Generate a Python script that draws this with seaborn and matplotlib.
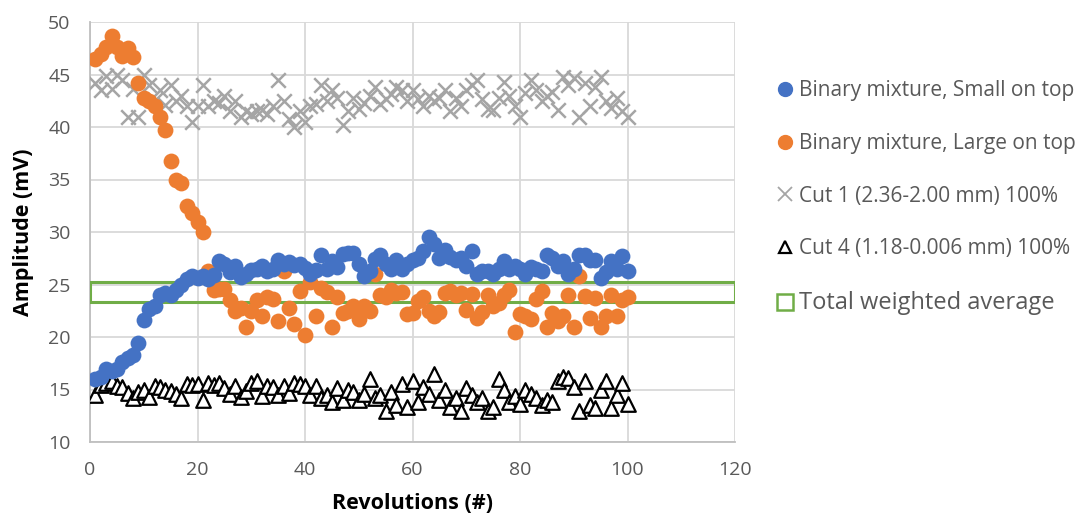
import numpy as np
import pandas as pd
import matplotlib
matplotlib.use("Agg")
import matplotlib.pyplot as plt
import seaborn as sns
from matplotlib.lines import Line2D

revs = list(range(1, 101))

small_on_top = [16.0, 16.2, 17.0, 16.8, 17.0, 17.6, 18.0, 18.3, 19.4, 21.6,
                22.7, 23.0, 24.0, 24.2, 24.0, 24.5, 25.0, 25.5, 25.8, 25.6,
                25.8, 25.5, 25.9, 27.2, 27.0, 26.2, 26.8, 25.7, 26.0, 26.4,
                26.5, 26.8, 26.3, 26.5, 27.3, 27.0, 27.1, 26.9, 27.0, 26.6,
                26.0, 26.4, 27.8, 26.5, 27.2, 26.7, 27.9, 28.0, 28.0, 27.0,
                25.8, 26.3, 27.4, 27.8, 27.0, 26.5, 27.3, 26.5, 27.0, 27.3,
                27.5, 28.2, 29.5, 28.9, 27.5, 28.3, 27.6, 27.3, 27.5, 26.8,
                28.2, 26.0, 26.3, 26.3, 26.0, 26.5, 27.2, 26.5, 26.8, 26.5,
                26.0, 26.7, 26.5, 26.3, 27.8, 27.5, 26.8, 27.2, 26.0, 26.5,
                27.8, 27.8, 27.3, 27.3, 25.6, 26.2, 27.2, 26.5, 27.7, 26.3]

large_on_top = [46.5, 47.0, 47.6, 48.7, 47.6, 46.8, 47.5, 46.7, 44.2, 42.8,
                42.5, 42.0, 41.0, 39.7, 36.8, 35.0, 34.7, 32.5, 31.8, 31.0,
                30.0, 26.3, 24.5, 24.6, 24.6, 23.5, 22.5, 22.8, 21.0, 22.5,
                23.5, 22.0, 23.8, 23.6, 21.5, 26.3, 22.8, 21.2, 24.4, 20.2,
                25.2, 22.0, 24.7, 24.3, 21.0, 23.8, 22.3, 22.5, 23.0, 21.7,
                23.0, 22.5, 26.0, 24.0, 23.8, 24.5, 24.2, 24.3, 22.2, 22.3,
                23.4, 23.8, 22.5, 22.0, 22.4, 24.2, 24.4, 24.0, 24.2, 22.6,
                24.1, 21.8, 22.4, 24.0, 23.0, 23.2, 24.0, 24.5, 20.5, 22.2,
                22.0, 21.7, 23.6, 24.4, 21.0, 22.3, 21.5, 22.0, 24.0, 21.0,
                25.8, 23.9, 21.8, 23.7, 21.0, 22.0, 24.0, 22.0, 23.5, 23.8]

cut1 = [44.2, 43.5, 44.9, 43.6, 45.0, 44.5, 41.0, 43.6, 41.0, 45.0,
        44.0, 42.6, 43.5, 42.1, 44.0, 42.5, 43.0, 42.0, 40.5, 42.0,
        44.0, 42.0, 42.5, 42.3, 43.0, 41.5, 42.5, 41.0, 41.5, 41.2,
        41.5, 41.6, 41.2, 42.0, 44.5, 42.5, 40.8, 40.0, 41.5, 40.5,
        42.0, 42.2, 44.0, 42.5, 43.5, 42.8, 40.2, 41.5, 42.8, 41.7,
        42.3, 43.0, 43.8, 42.2, 42.7, 43.1, 43.8, 43.5, 42.5, 43.5,
        42.7, 42.0, 43.0, 42.5, 42.8, 43.5, 41.5, 42.8, 42.0, 43.5,
        44.0, 44.5, 42.7, 41.7, 41.6, 42.8, 44.3, 43.0, 42.0, 41.0,
        43.2, 44.5, 43.5, 42.5, 43.0, 43.3, 41.6, 44.8, 44.0, 44.7,
        41.0, 44.2, 42.0, 43.8, 44.8, 42.5, 41.8, 42.8, 41.5, 41.0]

cut4 = [14.5, 15.4, 15.6, 15.8, 15.3, 15.2, 14.7, 14.2, 14.8, 15.0,
        14.3, 15.3, 15.2, 15.0, 14.9, 14.6, 14.2, 15.5, 15.4, 15.5,
        14.0, 15.6, 15.4, 15.6, 15.1, 14.6, 15.3, 14.3, 14.9, 15.6,
        15.8, 14.4, 15.3, 15.2, 14.5, 15.3, 14.7, 15.6, 15.5, 15.3,
        14.5, 15.3, 14.2, 14.5, 13.8, 15.1, 14.0, 15.0, 14.8, 14.0,
        14.6, 16.0, 14.2, 14.5, 13.0, 14.8, 13.5, 15.5, 13.3, 15.8,
        13.8, 15.2, 14.6, 16.5, 14.0, 15.0, 13.3, 14.2, 13.0, 15.1,
        14.5, 13.8, 14.2, 13.0, 13.3, 16.0, 15.0, 13.8, 14.4, 13.6,
        15.0, 14.6, 14.2, 13.5, 14.0, 13.8, 15.8, 16.2, 16.1, 15.2,
        13.0, 15.8, 13.5, 13.2, 15.0, 15.8, 13.2, 14.5, 15.6, 13.6]

# Total weighted average band (rectangle corners)
avg_x = [0, 120, 120, 0, 0]
avg_y = [23.3, 23.3, 25.2, 25.2, 23.3]

labels = ["Binary mixture, Small on top", "Binary mixture, Large on top",
          "Cut 1 (2.36-2.00 mm) 100%", "Cut 4 (1.18-0.006 mm) 100%",
          "Total weighted average"]
x_ticks = [0, 20, 40, 60, 80, 100, 120]
y_ticks = [10, 15, 20, 25, 30, 35, 40, 45, 50]

BLUE = "#4472C4"
ORANGE = "#ED7D31"
GRAY = "#A5A5A5"
GREEN = "#70AD47"
TXT = "#595959"

sns.set_style("white")
plt.rcParams['font.family'] = ['Open Sans', 'DejaVu Sans']

fig = plt.figure(figsize=(10.8, 5.22), dpi=100)
ax = fig.add_axes([90/1080, 1-442/522, (735-90)/1080, (442-22)/522])

df = pd.DataFrame({"rev": revs, "small": small_on_top, "large": large_on_top,
                   "cut1": cut1, "cut4": cut4})

sns.scatterplot(data=df, x="rev", y="cut1", marker="x", s=110, color=GRAY,
                linewidth=1.8, ax=ax, zorder=3, legend=False)
sns.scatterplot(data=df, x="rev", y="cut4", marker="^", s=110,
                facecolor="white", edgecolor="black", linewidth=1.6,
                ax=ax, zorder=3, legend=False)
sns.lineplot(x=avg_x, y=avg_y, sort=False, estimator=None, color=GREEN,
             linewidth=2.2, ax=ax, zorder=4, legend=False)
sns.scatterplot(data=df, x="rev", y="large", marker="o", s=130, color=ORANGE,
                edgecolor=ORANGE, linewidth=0, ax=ax, zorder=5, legend=False)
sns.scatterplot(data=df, x="rev", y="small", marker="o", s=130, color=BLUE,
                edgecolor=BLUE, linewidth=0, ax=ax, zorder=6, legend=False)

ax.set_xlim(0, 120)
ax.set_ylim(10, 50)
ax.set_xticks(x_ticks)
ax.set_yticks(y_ticks)
ax.grid(True, color="#D9D9D9", linewidth=1.3)
ax.set_axisbelow(True)
for s in ["top", "right"]:
    ax.spines[s].set_visible(False)
for s in ["left", "bottom"]:
    ax.spines[s].set_color("#BFBFBF")
    ax.spines[s].set_linewidth(1.3)
ax.tick_params(axis="both", length=0, labelsize=14, colors=TXT)
ax.tick_params(axis="x", pad=14)
ax.tick_params(axis="y", pad=14)
ax.set_xlabel("Revolutions (#)", fontsize=15.5, fontweight="bold", color="black", labelpad=10)
ax.set_ylabel("Amplitude (mV)", fontsize=15.5, fontweight="bold", color="black", labelpad=10)

handles = [
    Line2D([], [], linestyle="none", marker="o", markersize=10, color=BLUE),
    Line2D([], [], linestyle="none", marker="o", markersize=10, color=ORANGE),
    Line2D([], [], linestyle="none", marker="x", markersize=10, color=GRAY, markeredgewidth=1.3),
    Line2D([], [], linestyle="none", marker="^", markersize=9, markerfacecolor="white",
           markeredgecolor="black", markeredgewidth=1.6),
    Line2D([], [], linestyle="none", marker="s", markersize=11, markerfacecolor="white",
           markeredgecolor=GREEN, markeredgewidth=1.8),
]
leg = fig.legend(handles, labels, loc="upper left", bbox_to_anchor=(768/1080, 1-72/522),
                 frameon=False, fontsize=15, labelspacing=1.52, handlelength=0.8,
                 handletextpad=0.3, borderaxespad=0)
for t in leg.get_texts():
    t.set_color(TXT)
leg.get_texts()[4].set_fontsize(17)

fig.savefig("out.png", dpi=100)
